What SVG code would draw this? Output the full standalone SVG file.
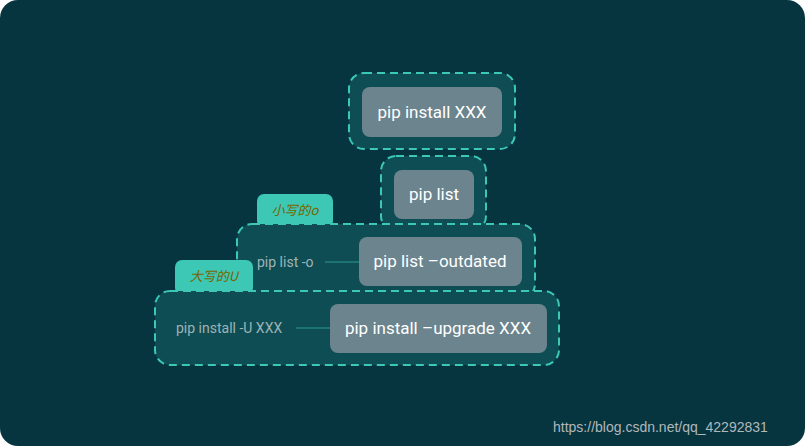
<svg xmlns="http://www.w3.org/2000/svg" width="805" height="446" viewBox="0 0 805 446">
<style>
.b{fill:#0e4d53;stroke:#3cc8b4;stroke-width:2;stroke-dasharray:8 5}
.n{fill:#6b848e}
.t{fill:#fff;font-family:Roboto,"Liberation Sans",sans-serif;font-size:17px;text-anchor:middle}
.l{fill:#9fb3b6;font-family:Roboto,"Liberation Sans",sans-serif;font-size:14px}
.tab{fill:#3cc8b4}
.tt{fill:#7a6400;font-family:"Noto Sans CJK SC",sans-serif;font-size:13px;font-style:italic;text-anchor:middle}
.c{stroke:#2a9a92;stroke-width:1.2}
</style>
<rect x="0" y="0" width="805" height="446" rx="18" fill="#063540"/>
<g id="boundary1"><rect class="b" x="349" y="73" width="166" height="76" rx="15"/></g>
<g id="boundary2"><rect class="b" x="381" y="156" width="105" height="75" rx="15"/></g>
<g id="boundary3"><rect class="tab" x="257" y="194" width="76" height="34" rx="7"/><text class="tt" x="295" y="215">小写的o</text><rect class="b" x="237" y="224" width="298" height="75" rx="15"/></g>
<g id="boundary4"><rect class="tab" x="175" y="260" width="78" height="35" rx="7"/><text class="tt" x="214" y="281">大写的U</text><rect class="b" x="155" y="291" width="404" height="74" rx="15"/></g>
<g id="connectors"><line class="c" x1="325" y1="262" x2="359" y2="262"/><line class="c" x1="296" y1="328" x2="330" y2="328"/></g>
<g id="n1"><rect class="n" x="362" y="87" width="140" height="50" rx="8"/><text class="t" x="432" y="118">pip install XXX</text></g>
<g id="n2"><rect class="n" x="394" y="170" width="80" height="49" rx="8"/><text class="t" x="434" y="200">pip list</text></g>
<g id="n3"><rect class="n" x="359" y="237" width="163" height="49" rx="8"/><text class="t" x="440" y="267">pip list –outdated</text><text class="l" x="257" y="267">pip list -o</text></g>
<g id="n4"><rect class="n" x="330" y="304" width="217" height="49" rx="8"/><text class="t" x="438" y="334">pip install –upgrade XXX</text><text class="l" x="176" y="333">pip install -U XXX</text></g>
<text x="553" y="432" fill="#b0b8bb" font-family="'Liberation Sans',sans-serif" font-size="14">https://blog.csdn.net/qq_42292831</text>
</svg>
